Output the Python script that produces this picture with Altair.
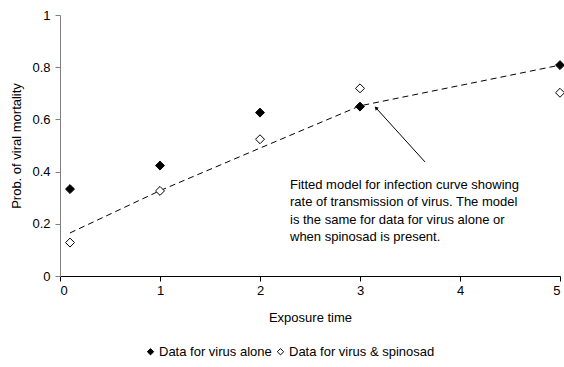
import altair as alt
import pandas as pd

# Exposure times and observed probabilities of viral mortality
times = [0.1, 1, 2, 3, 5]
virus_alone = [0.333, 0.423, 0.626, 0.649, 0.808]
virus_spinosad = [0.128, 0.326, 0.524, 0.719, 0.702]

# Fitted infection-curve model (same for both treatments)
model_times = [0.1, 1, 2, 3, 5]
model_values = [0.165, 0.327, 0.490, 0.652, 0.808]

series_names = ["Data for virus alone", "Data for virus & spinosad"]

# Annotation arrow (tail -> head) and note text
arrow_x = [3.65, 3.16]
arrow_y = [0.437, 0.644]
note_lines = [
    "Fitted model for infection curve showing",
    "rate of transmission of virus. The model",
    "is the same for data for virus alone or",
    "when spinosad is present.",
]
note_x = 2.3
note_y = 0.372

FONT = "Liberation Sans"

points = pd.DataFrame(
    {
        "t": times * 2,
        "p": virus_alone + virus_spinosad,
        "series": [series_names[0]] * len(times) + [series_names[1]] * len(times),
    }
)
model = pd.DataFrame({"t": model_times, "p": model_values})
arrow = pd.DataFrame({"x": [arrow_x[0]], "y": [arrow_y[0]], "x2": [arrow_x[1]], "y2": [arrow_y[1]]})
head = pd.DataFrame({"x": [arrow_x[1]], "y": [arrow_y[1]]})
note = pd.DataFrame({"x": [note_x], "y": [note_y], "text": [note_lines]})

x_scale = alt.Scale(domain=[0, 5], nice=False, zero=False)
y_scale = alt.Scale(domain=[0, 1], nice=False)

x_axis = alt.Axis(
    values=[0, 1, 2, 3, 4, 5],
    format="~g",
    title="Exposure time",
    grid=False,
    domainColor="black",
    tickColor="black",
    tickSize=5,
    labelPadding=3,
    titlePadding=14,
)
y_axis = alt.Axis(
    values=[0, 0.2, 0.4, 0.6, 0.8, 1],
    format="~g",
    title="Prob. of viral mortality",
    grid=False,
    domainColor="#808080",
    tickColor="#808080",
    tickSize=5,
    labelPadding=5,
    titlePadding=8,
)

curve = (
    alt.Chart(model)
    .mark_line(color="black", strokeWidth=1, strokeDash=[6, 4])
    .encode(
        x=alt.X("t:Q", scale=x_scale, axis=x_axis),
        y=alt.Y("p:Q", scale=y_scale, axis=y_axis),
    )
)

markers = (
    alt.Chart(points)
    .mark_point(shape="diamond", size=80, stroke="black", strokeWidth=1, opacity=1, filled=False)
    .encode(
        x=alt.X("t:Q", scale=x_scale),
        y=alt.Y("p:Q", scale=y_scale),
        fill=alt.Fill(
            "series:N",
            scale=alt.Scale(domain=series_names, range=["black", "white"]),
            legend=alt.Legend(
                title=None,
                orient="none",
                direction="horizontal",
                legendX=84,
                legendY=330,
                symbolType="diamond",
                symbolSize=40,
                symbolStrokeColor="black",
                symbolStrokeWidth=1,
                labelFont=FONT,
                labelFontSize=13,
                labelColor="black",
                labelOffset=2,
                columnPadding=2,
                symbolOpacity=1,
            ),
        ),
    )
)

arrow_line = (
    alt.Chart(arrow)
    .mark_rule(color="black", strokeWidth=1)
    .encode(
        x=alt.X("x:Q", scale=x_scale),
        y=alt.Y("y:Q", scale=y_scale),
        x2="x2:Q",
        y2="y2:Q",
    )
)

arrow_head = (
    alt.Chart(head)
    .mark_point(shape="triangle-up", size=18, filled=True, color="black", angle=318, opacity=1)
    .encode(
        x=alt.X("x:Q", scale=x_scale),
        y=alt.Y("y:Q", scale=y_scale),
    )
)

note_text = (
    alt.Chart(note)
    .mark_text(align="left", baseline="top", font=FONT, fontSize=13, lineHeight=17.5, color="black")
    .encode(
        x=alt.X("x:Q", scale=x_scale),
        y=alt.Y("y:Q", scale=y_scale),
        text="text",
    )
)

chart = (
    alt.layer(curve, arrow_line, arrow_head, markers, note_text)
    .properties(
        width=500,
        height=261,
        autosize=alt.AutoSizeParams(type="none"),
        padding={"left": 60, "top": 15, "right": 4, "bottom": 91},
        background="white",
    )
    .configure_view(stroke=None)
    .configure_axis(
        labelFont=FONT,
        labelFontSize=13,
        labelColor="black",
        titleFont=FONT,
        titleFontSize=13,
        titleFontWeight="normal",
        titleColor="black",
        domainWidth=1,
    )
)

chart.save("out.html", embed_options={"renderer": "svg", "actions": False})
